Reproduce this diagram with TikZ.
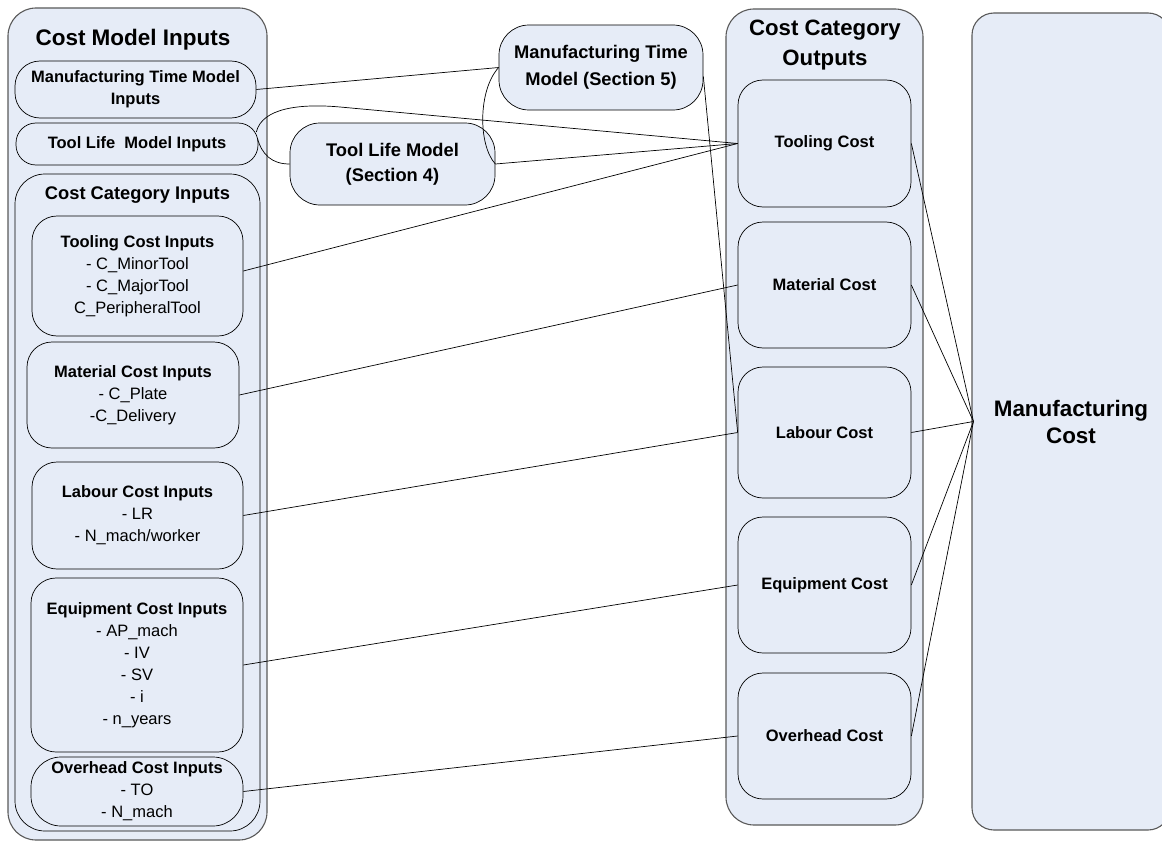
\documentclass[tikz,border=0pt]{standalone}
\usepackage{fontspec}
\setmainfont{Liberation Sans}
\definecolor{boxfill}{HTML}{E6ECF7}
\newcommand\hdBig{\fontsize{22.5}{30}\selectfont\bfseries}
\newcommand\hdMid{\fontsize{18.3}{26}\selectfont\bfseries}
\newcommand\hdSub{\fontsize{16.5}{22}\selectfont\bfseries}
\newcommand\txBody{\fontsize{16.5}{22}\selectfont}
\tikzset{
  box/.style={draw=black, fill=boxfill, line width=0.7pt, rounded corners=#1,
              inner sep=0pt, align=center, font=\txBody},
  box/.default=25pt,
  frame/.style={draw=black!65, fill=boxfill, line width=1.1pt, rounded corners=#1,
                inner sep=0pt},
  frame/.default=28pt,
  link/.style={draw=black, line width=0.7pt},
  title/.style={inner sep=0pt, align=center},
}
\begin{document}
\begin{tikzpicture}[x=1pt,y=-1pt]
\useasboundingbox (0,0) rectangle (1162,843);

% outer frames
\node[frame, minimum width=259pt, minimum height=832pt] (cmi) at (137.5,424) {};
\node[frame, minimum width=197pt, minimum height=816pt] (cco) at (824.5,417) {};
\node[frame=22pt, minimum width=198pt, minimum height=817pt, align=center,
      font=\fontsize{22.4}{27}\selectfont\bfseries] (mfc) at (1071,421.5)
  {Manufacturing\\Cost};

% left column: model inputs
\node[title, font=\hdBig] (cmiTitle) at (133,40) {Cost Model Inputs};
\node[box, font=\hdSub, minimum width=241pt, minimum height=57pt] (mtmi) at (135.5,89.5)
  {Manufacturing Time Model\\Inputs};
\node[box=20pt, font=\hdSub, minimum width=242pt, minimum height=42pt] (tlmi) at (137,144)
  {Tool Life~~Model Inputs};
\node[box=30pt, minimum width=245pt, minimum height=657pt] (cci) at (137.5,502.5) {};
\node[title, font=\hdMid] (cciTitle) at (137.5,195) {Cost Category Inputs};

\node[box, minimum width=211pt, minimum height=120pt] (tci) at (137.5,276)
  {\textbf{Tooling Cost Inputs}\\- C\_MinorTool\\- C\_MajorTool\\C\_PeripheralTool};
\node[box, minimum width=212pt, minimum height=106pt] (mci) at (133,395)
  {\textbf{Material Cost Inputs}\\- C\_Plate\\-C\_Delivery};
\node[box, minimum width=211pt, minimum height=107pt] (lci) at (137.5,515.5)
  {\textbf{Labour Cost Inputs}\\- LR\\- N\_mach/worker};
\node[box, minimum width=212pt, minimum height=174pt] (eci) at (137,665)
  {\textbf{Equipment Cost Inputs}\\- AP\_mach\\- IV\\- SV\\- i\\- n\_years};
\node[box=30pt, minimum width=212pt, minimum height=69pt] (oci) at (137,791.5)
  {\textbf{Overhead Cost Inputs}\\- TO\\- N\_mach};

% middle: sub-models
\node[box=30pt, minimum width=204pt, minimum height=85pt,
      font=\fontsize{18.3}{27}\selectfont\bfseries] (mtm) at (601,67.5)
  {Manufacturing Time\\Model (Section 5)};
\node[box=30pt, minimum width=205pt, minimum height=82pt,
      font=\fontsize{18.3}{25}\selectfont\bfseries] (tlm) at (392.5,164)
  {Tool Life Model\\(Section 4)};

% right column: cost category outputs
\node[title, font=\fontsize{22.2}{30}\selectfont\bfseries] (ccoTitle) at (825,45)
  {Cost Category\\Outputs};
\node[box, font=\hdSub, minimum width=173pt, minimum height=127pt] (tc) at (824.5,143.5) {Tooling Cost};
\node[box, font=\hdSub, minimum width=173pt, minimum height=126pt] (mc) at (824.5,285) {Material Cost};
\node[box, font=\hdSub, minimum width=173pt, minimum height=131pt] (lc) at (824.5,432.5) {Labour Cost};
\node[box, font=\hdSub, minimum width=173pt, minimum height=136pt] (ec) at (824.5,585) {Equipment Cost};
\node[box, font=\hdSub, minimum width=173pt, minimum height=126pt] (oc) at (824.5,736) {Overhead Cost};

% connectors
\draw[link] (mtmi.east) -- (mtm.west);
\draw[link] ([xshift=-2pt,yshift=12pt]tlmi.east) .. controls (262,108) and (300,103.4) .. (340,107) -- (tc.west);
\draw[link] ([xshift=-1pt,yshift=6pt]tlmi.east) .. controls (262,155) and (272,164) .. (tlm.west);
\draw[link] (mtm.west) .. controls (478,90) and (478,145) .. (tlm.east);
\draw[link] (tlm.east) -- (tc.west);
\draw[link] ([yshift=-9pt]mtm.east) -- (lc.west);
\draw[link] ([yshift=5pt]tci.east) -- (tc.west);
\draw[link] (mci.east) -- (mc.west);
\draw[link] (lci.east) -- (lc.west);
\draw[link] (eci.east) -- (ec.west);
\draw[link] (oci.east) -- (oc.west);
\foreach \src in {tc,mc,lc,ec,oc}
  \draw[link] (\src.east) -- ([xshift=2pt]mfc.west);
\end{tikzpicture}
\end{document}
